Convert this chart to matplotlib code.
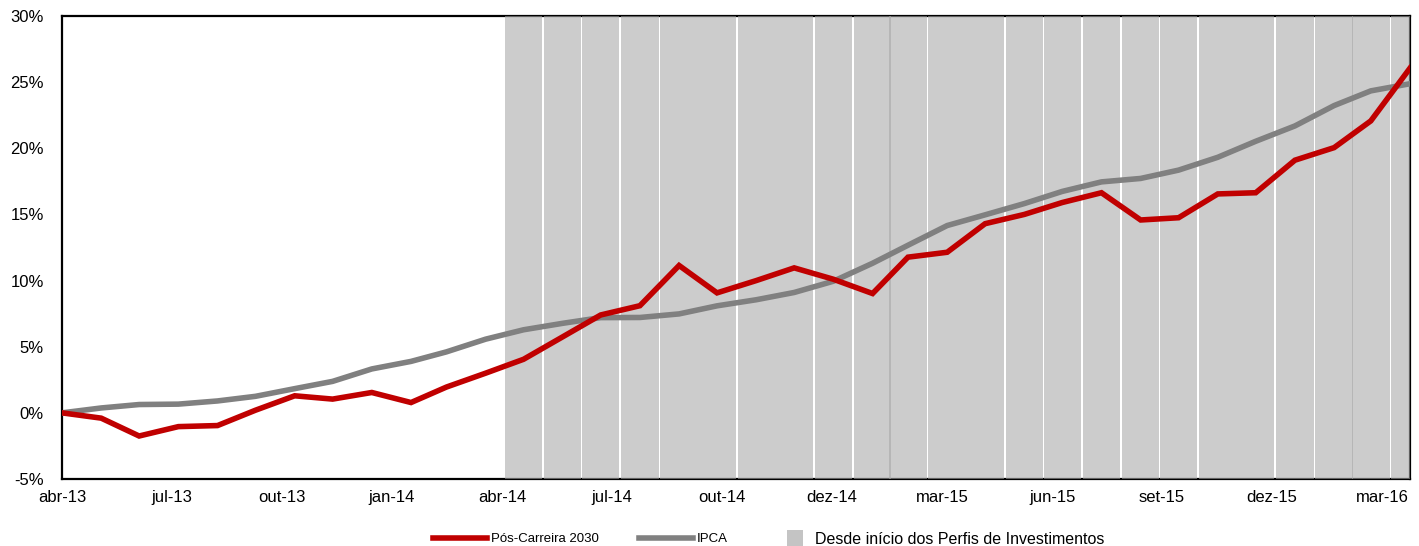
import pandas as pd
import matplotlib
matplotlib.use('Agg')
import matplotlib.pyplot as plt
import matplotlib.dates as mdates
from matplotlib.lines import Line2D
from matplotlib.ticker import FuncFormatter

plt.rcParams['font.family'] = ['Liberation Sans', 'DejaVu Sans']

# datas de fechamento mensal (abr-13 a mar-16)
datas = pd.date_range('2013-04-30', periods=36, freq='ME')

# rentabilidade acumulada (%)
pos_carreira = [0.0, -0.4, -1.75, -1.04, -0.96, 0.2, 1.29, 1.04, 1.54, 0.78, 1.95, 3.0,
                4.05, 5.75, 7.4, 8.1, 11.14, 9.07, 10.0, 10.96, 10.1, 9.02, 11.77, 12.14,
                14.3, 15.0, 15.9, 16.64, 14.58, 14.75, 16.55, 16.64, 19.1, 20.05, 22.07, 26.06]
ipca = [0.0, 0.37, 0.63, 0.66, 0.90, 1.25, 1.83, 2.38, 3.32, 3.89, 4.61, 5.57,
        6.28, 6.77, 7.20, 7.21, 7.48, 8.09, 8.55, 9.10, 9.95, 11.31, 12.67, 14.16,
        14.97, 15.82, 16.74, 17.46, 17.72, 18.35, 19.32, 20.53, 21.69, 23.23, 24.34, 24.88]
# periodo dos Perfis de Investimentos (1 = sombreado)
perfis = [0, 0, 0, 0, 0, 0, 0, 0, 0, 0, 0, 0,
          1, 1, 1, 1, 1, 1, 1, 1, 1, 1, 1, 1,
          1, 1, 1, 1, 1, 1, 1, 1, 1, 1, 1, 1]

meses = ['jan', 'fev', 'mar', 'abr', 'mai', 'jun', 'jul', 'ago', 'set', 'out', 'nov', 'dez']

VERMELHO = '#C00000'
CINZA = '#808080'
SOMBRA = '#A7A7A7'

fig = plt.figure(figsize=(14.19, 5.46), dpi=100, facecolor='white')
ax = fig.add_axes([62/1419, 1-479/546, (1410-62)/1419, (479-16)/546])

y_min, y_max = -5, 30

# faixa sombreada
alturas = [(y_max - y_min) * p for p in perfis]
ax.bar(datas, alturas, bottom=y_min, width=29.6, align='center',
       color=SOMBRA, alpha=0.576, linewidth=0, zorder=2.6)

ax.plot(datas, pos_carreira, color=VERMELHO, linewidth=4, zorder=4,
        solid_joinstyle='miter')
ax.plot(datas, ipca, color=CINZA, linewidth=4, zorder=3.5,
        solid_joinstyle='miter')

ax.set_xlim(datas[0], datas[-1])
ax.set_ylim(y_min, y_max)

# eixo de datas com unidade principal de 87 dias
ticks = pd.date_range(datas[0], datas[-1], freq='87D')
ax.set_xticks(ticks)
ax.set_xticklabels([f"{meses[d.month-1]}-{d.strftime('%y')}" for d in ticks])
ax.set_yticks(range(y_min, y_max + 1, 5))
ax.yaxis.set_major_formatter(FuncFormatter(lambda v, p: f'{v:.0f}%'))

ax.tick_params(axis='x', length=0, pad=8, labelsize=12)
ax.tick_params(axis='y', length=0, pad=13, labelsize=12)

for s in ax.spines.values():
    s.set_linewidth(1.6)
    s.set_color('black')

# legenda
h_linhas = [Line2D([], [], color=VERMELHO, linewidth=4),
            Line2D([], [], color=CINZA, linewidth=4)]
leg1 = fig.legend(h_linhas, ['Pós-Carreira 2030', 'IPCA'], ncol=2,
                  loc='center left', bbox_to_anchor=(433/1419, 1-539/546),
                  frameon=False, fontsize=9.5, handlelength=4.1,
                  handletextpad=0.3, columnspacing=3.0,
                  borderpad=0, borderaxespad=0)
h_sombra = [Line2D([], [], marker='s', linestyle='none', markersize=11.5,
                   markerfacecolor='#C4C4C4', markeredgewidth=0)]
leg2 = fig.legend(h_sombra, ['Desde início dos Perfis de Investimentos'],
                  loc='center left', bbox_to_anchor=(787/1419, 1-539/546),
                  frameon=False, fontsize=11.5, handlelength=1.0,
                  handletextpad=0.75, borderpad=0, borderaxespad=0)

fig.savefig('out.png', dpi=100, facecolor='white')
